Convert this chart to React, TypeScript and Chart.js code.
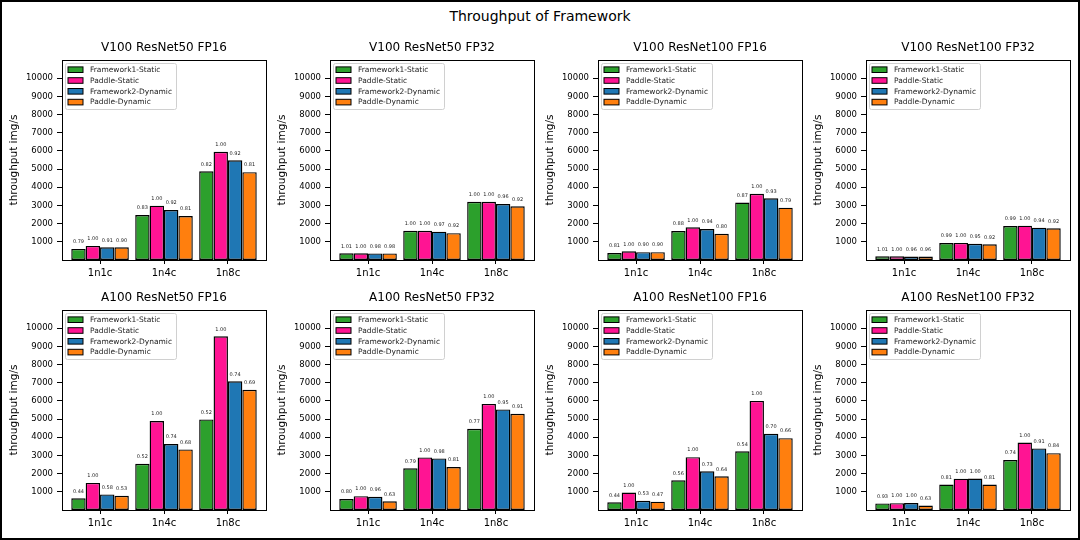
import React, { useEffect, useRef } from 'react';
import { Chart, registerables } from 'chart.js';

Chart.register(...registerables);

const FONT = "'DejaVu Sans', sans-serif";

const categories = ['1n1c', '1n4c', '1n8c'];
const seriesNames = ['Framework1-Static', 'Paddle-Static', 'Framework2-Dynamic', 'Paddle-Dynamic'];
const seriesColors = ['#2ca02c', '#ff1493', '#1f77b4', '#ff7f0e'];
const yTickValues = [1000, 2000, 3000, 4000, 5000, 6000, 7000, 8000, 9000, 10000];
const mainTitle = 'Throughput of Framework';
const yAxisTitle = 'throughput img/s';
const panelTitles = [
  'V100 ResNet50 FP16',
  'V100 ResNet50 FP32',
  'V100 ResNet100 FP16',
  'V100 ResNet100 FP32',
  'A100 ResNet50 FP16',
  'A100 ResNet50 FP32',
  'A100 ResNet100 FP16',
  'A100 ResNet100 FP32',
];

// values per series (Framework1-Static, Paddle-Static, Framework2-Dynamic, Paddle-Dynamic) per category
const v100R50Fp16 = [
  [610, 2470, 4880],
  [775, 2990, 5950],
  [700, 2750, 5480],
  [695, 2420, 4830],
];
const v100R50Fp16Ratios = [
  ['0.79', '0.83', '0.82'],
  ['1.00', '1.00', '1.00'],
  ['0.91', '0.92', '0.92'],
  ['0.90', '0.81', '0.81'],
];

const v100R50Fp32 = [
  [372, 1610, 3205],
  [368, 1610, 3205],
  [362, 1560, 3075],
  [362, 1475, 2950],
];
const v100R50Fp32Ratios = [
  ['1.01', '1.00', '1.00'],
  ['1.00', '1.00', '1.00'],
  ['0.98', '0.97', '0.96'],
  ['0.98', '0.92', '0.92'],
];

const v100R100Fp16 = [
  [385, 1590, 3160],
  [480, 1800, 3645],
  [430, 1700, 3390],
  [430, 1445, 2880],
];
const v100R100Fp16Ratios = [
  ['0.81', '0.88', '0.87'],
  ['1.00', '1.00', '1.00'],
  ['0.90', '0.94', '0.93'],
  ['0.90', '0.80', '0.79'],
];

const v100R100Fp32 = [
  [202, 930, 1870],
  [200, 940, 1888],
  [192, 895, 1780],
  [192, 865, 1745],
];
const v100R100Fp32Ratios = [
  ['1.01', '0.99', '0.99'],
  ['1.00', '1.00', '1.00'],
  ['0.96', '0.95', '0.94'],
  ['0.96', '0.92', '0.92'],
];

const a100R50Fp16 = [
  [645, 2545, 4980],
  [1490, 4890, 9550],
  [858, 3630, 7080],
  [785, 3330, 6610],
];
const a100R50Fp16Ratios = [
  ['0.44', '0.52', '0.52'],
  ['1.00', '1.00', '1.00'],
  ['0.58', '0.74', '0.74'],
  ['0.53', '0.68', '0.69'],
];

const a100R50Fp32 = [
  [605, 2290, 4470],
  [762, 2890, 5836],
  [730, 2836, 5530],
  [478, 2364, 5290],
];
const a100R50Fp32Ratios = [
  ['0.80', '0.79', '0.77'],
  ['1.00', '1.00', '1.00'],
  ['0.96', '0.98', '0.95'],
  ['0.63', '0.81', '0.91'],
];

const a100R100Fp16 = [
  [420, 1630, 3230],
  [960, 2905, 6000],
  [505, 2125, 4190],
  [460, 1855, 3950],
];
const a100R100Fp16Ratios = [
  ['0.44', '0.56', '0.54'],
  ['1.00', '1.00', '1.00'],
  ['0.53', '0.73', '0.70'],
  ['0.47', '0.64', '0.66'],
];

const a100R100Fp32 = [
  [360, 1400, 2745],
  [375, 1725, 3709],
  [385, 1727, 3385],
  [245, 1400, 3127],
];
const a100R100Fp32Ratios = [
  ['0.93', '0.81', '0.74'],
  ['1.00', '1.00', '1.00'],
  ['1.00', '1.00', '0.91'],
  ['0.63', '0.81', '0.84'],
];

const panelValues = [
  v100R50Fp16, v100R50Fp32, v100R100Fp16, v100R100Fp32,
  a100R50Fp16, a100R50Fp32, a100R100Fp16, a100R100Fp32,
];
const panelRatios = [
  v100R50Fp16Ratios, v100R50Fp32Ratios, v100R100Fp16Ratios, v100R100Fp32Ratios,
  a100R50Fp16Ratios, a100R50Fp32Ratios, a100R100Fp16Ratios, a100R100Fp32Ratios,
];

const AXIS_LEFT = [62, 330, 598, 866];
const AXIS_TOP = [60, 310];
const Y_AXIS_W = 60;
const TOP_PAD = 30;
const PLOT_W = 204;
const PLOT_H = 200;
const X_AXIS_H = 30;
const CANVAS_W = Y_AXIS_W + PLOT_W + 4;
const CANVAS_H = TOP_PAD + PLOT_H + X_AXIS_H;

function Panel({ index }: { index: number }) {
  const ref = useRef<HTMLCanvasElement>(null);
  useEffect(() => {
    if (!ref.current) return;
    const values = panelValues[index];
    const ratios = panelRatios[index];
    const title = panelTitles[index];

    const overlay = {
      id: 'overlay',
      afterDatasetsDraw(chart: any) {
        const ctx = chart.ctx;
        const a = chart.chartArea;
        ctx.save();
        // value ratio labels
        ctx.font = `5px ${FONT}`;
        ctx.fillStyle = '#222';
        ctx.textAlign = 'center';
        ctx.textBaseline = 'middle';
        chart.data.datasets.forEach((_ds: any, di: number) => {
          const meta = chart.getDatasetMeta(di);
          meta.data.forEach((el: any, j: number) => {
            ctx.fillText(ratios[di][j], el.x, el.y - 7);
          });
        });
        // axes frame
        ctx.strokeStyle = '#000';
        ctx.lineWidth = 1;
        ctx.strokeRect(
          Math.round(a.left) + 0.5,
          Math.round(a.top) + 0.5,
          Math.round(a.right - a.left),
          Math.round(a.bottom - a.top)
        );
        // subplot title
        ctx.font = `12px ${FONT}`;
        ctx.fillStyle = '#000';
        ctx.textAlign = 'center';
        ctx.textBaseline = 'middle';
        ctx.fillText(title, (a.left + a.right) / 2, a.top - 12);
        // legend
        const lx = Math.round(a.left) + 3.5;
        const ly = Math.round(a.top) + 3.5;
        const lw = 111;
        const lh = 46;
        ctx.beginPath();
        if (ctx.roundRect) ctx.roundRect(lx, ly, lw, lh, 2);
        else ctx.rect(lx, ly, lw, lh);
        ctx.fillStyle = 'rgba(255,255,255,0.8)';
        ctx.fill();
        ctx.strokeStyle = '#d0d0d0';
        ctx.lineWidth = 1;
        ctx.stroke();
        ctx.font = `7.5px ${FONT}`;
        ctx.textAlign = 'left';
        ctx.textBaseline = 'middle';
        chart.data.datasets.forEach((ds: any, di: number) => {
          const cy = a.top + 9.7 + di * 10.8;
          const px = a.left + 6;
          ctx.fillStyle = ds.backgroundColor;
          ctx.fillRect(px, cy - 2.8, 15, 5.6);
          ctx.strokeStyle = '#000';
          ctx.lineWidth = 1;
          ctx.strokeRect(px, cy - 2.8, 15, 5.6);
          ctx.fillStyle = '#222';
          ctx.fillText(ds.label, a.left + 28, cy + 0.3);
        });
        ctx.restore();
      },
    };

    const chart = new Chart(ref.current, {
      type: 'bar',
      data: {
        datasets: seriesNames.map((name, si) => ({
          label: name,
          data: categories.map((_c, ci) => ({ x: ci, y: values[si][ci] })),
          backgroundColor: seriesColors[si],
          borderColor: '#000',
          borderWidth: 1.4,
          borderSkipped: false,
          categoryPercentage: 0.9,
          barPercentage: 1.0,
        })),
      },
      options: {
        responsive: false,
        animation: false,
        events: [],
        devicePixelRatio: 1,
        layout: { padding: { top: TOP_PAD, right: 4, left: 0, bottom: 0 } },
        plugins: {
          legend: { display: false },
          tooltip: { enabled: false },
          title: { display: false },
        },
        scales: {
          x: {
            type: 'linear',
            min: -0.595,
            max: 2.595,
            offset: false,
            grid: {
              display: true,
              offset: false,
              drawOnChartArea: false,
              drawTicks: true,
              tickLength: 4,
              color: '#000',
            },
            border: { display: false },
            afterBuildTicks: (s: any) => {
              s.ticks = categories.map((_c, i) => ({ value: i }));
            },
            afterFit: (s: any) => {
              s.height = X_AXIS_H;
            },
            ticks: {
              callback: (v: any) => categories[v] ?? '',
              font: { family: FONT, size: 10 },
              color: '#000',
              padding: 3,
              maxRotation: 0,
              autoSkip: false,
            },
          },
          y: {
            min: 0,
            max: 11000,
            grid: {
              display: true,
              offset: false,
              drawOnChartArea: false,
              drawTicks: true,
              tickLength: 5,
              color: '#000',
            },
            border: { display: false },
            afterBuildTicks: (s: any) => {
              s.ticks = yTickValues.map((v) => ({ value: v }));
            },
            afterFit: (s: any) => {
              s.width = Y_AXIS_W;
            },
            ticks: {
              callback: (v: any) => String(v),
              font: { family: FONT, size: 8.5 },
              color: '#000',
              padding: 4,
              autoSkip: false,
            },
            title: {
              display: true,
              text: yAxisTitle,
              font: { family: FONT, size: 10.5 },
              color: '#000',
              padding: { top: 6, bottom: 0 },
            },
          },
        },
      },
      plugins: [overlay],
    } as any);
    return () => chart.destroy();
  }, [index]);

  const col = index % 4;
  const row = Math.floor(index / 4);
  return (
    <canvas
      ref={ref}
      width={CANVAS_W}
      height={CANVAS_H}
      style={{
        position: 'absolute',
        left: AXIS_LEFT[col] - Y_AXIS_W,
        top: AXIS_TOP[row] - TOP_PAD,
        width: CANVAS_W,
        height: CANVAS_H,
      }}
    />
  );
}

export default function App() {
  return (
    <div
      style={{
        position: 'absolute',
        left: 0,
        top: 0,
        width: 1080,
        height: 540,
        background: '#fff',
        overflow: 'hidden',
      }}
    >
      <div
        style={{
          position: 'absolute',
          left: 0,
          top: 0,
          width: 1080,
          height: 540,
          boxSizing: 'border-box',
          border: '2px solid #000',
        }}
      />
      <div
        style={{
          position: 'absolute',
          left: 0,
          top: 7,
          width: 1080,
          textAlign: 'center',
          fontFamily: FONT,
          fontSize: 14,
          lineHeight: '18px',
          color: '#000',
        }}
      >
        {mainTitle}
      </div>
      {panelTitles.map((_t, i) => (
        <Panel key={i} index={i} />
      ))}
    </div>
  );
}
